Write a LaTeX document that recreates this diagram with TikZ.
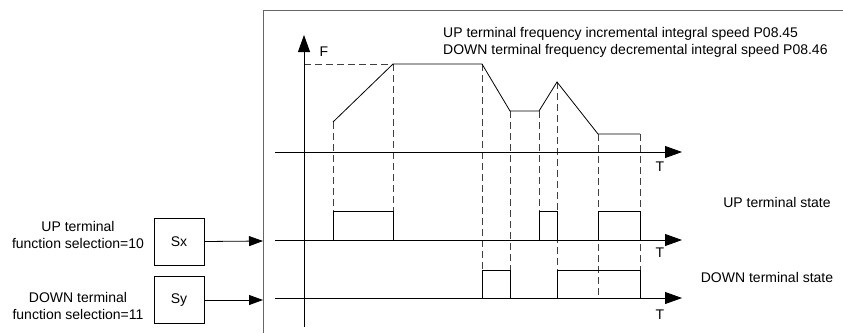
\documentclass[tikz,border=0pt]{standalone}
\usepackage{fontspec}
\setmainfont{Liberation Sans}
\usetikzlibrary{arrows.meta}
\begin{document}
\begin{tikzpicture}[x=1pt,y=-1pt,
  every node/.style={font=\fontsize{14}{17}\selectfont, inner sep=0pt},
  axisline/.style={line width=0.8pt, -{Triangle[length=17pt,width=12pt]}},
  sig/.style={line width=0.8pt},
  guide/.style={line width=0.8pt, dash pattern=on 7pt off 4pt, draw=black!75},
  frameline/.style={line width=0.9pt, draw=black!60},
  boxst/.style={draw, line width=0.7pt, minimum width=50pt, minimum height=47pt, inner sep=0pt},
  feed/.style={line width=0.8pt, -{Triangle[length=14pt,width=10pt]}}
]
\useasboundingbox (0,0) rectangle (843,333);
% frame
\draw[frameline] (263,333) -- (263,10) -- (843,10);
% coordinates
\coordinate (fB) at (304,327);
\coordinate (fT) at (304,35);
\coordinate (a1L) at (275,152);
\coordinate (a1R) at (682,152);
\coordinate (a2L) at (275,240);
\coordinate (a2R) at (682,240);
\coordinate (a3L) at (275,298);
\coordinate (a3R) at (682,298);
% guides
\draw[guide] (304,64) -- (393,64);
\draw[guide] (333,122) -- (333,211);
\draw[guide] (393,64) -- (393,211);
\draw[guide] (482,64) -- (482,270);
\draw[guide] (510,111) -- (510,270);
\draw[guide] (539,111) -- (539,211);
\draw[guide] (557,82) -- (557,270);
\draw[guide] (598,134) -- (598,298);
\draw[guide] (640,134) -- (640,270);
% axes
\draw[axisline] (fB) -- (fT);
\draw[axisline] (a1L) -- (a1R);
\draw[axisline] (a2L) -- (a2R);
\draw[axisline] (a3L) -- (a3R);
% frequency curve
\draw[sig] (333,122) -- (393,64) -- (482,64) -- (510,111) -- (539,111) -- (557,82) -- (598,134) -- (640,134);
% UP pulses
\draw[sig] (333,240) -- (333,211) -- (393,211) -- (393,240);
\draw[sig] (539,240) -- (539,211) -- (557,211) -- (557,240);
\draw[sig] (598,240) -- (598,211) -- (640,211) -- (640,240);
% DOWN pulses
\draw[sig] (482,298) -- (482,270) -- (510,270) -- (510,298);
\draw[sig] (557,298) -- (557,270) -- (640,270) -- (640,298);
% labels
\node (F) at (324,52) {F};
\node (T1) at (660,167) {T};
\node (T2) at (660,253) {T};
\node (T3) at (660,315) {T};
\node[anchor=west, align=left] (title) at (443,42) {UP terminal frequency incremental integral speed P08.45\\DOWN terminal frequency decremental integral speed P08.46};
\node (upst) at (777,202) {UP terminal state};
\node (dnst) at (767,277) {DOWN terminal state};
% boxes
\node[boxst] (Sx) at (179,241.5) {Sx};
\node[boxst] (Sy) at (179,300) {Sy};
\coordinate (inx) at (263,241);
\coordinate (iny) at (263,300);
\draw[feed] (Sx.east) -- (inx);
\draw[feed] (Sy.east) -- (iny);
\node[align=center] (uplab) at (78,235) {UP terminal\\function selection=10};
\node[align=center] (dnlab) at (78,306) {DOWN terminal\\function selection=11};
\end{tikzpicture}
\end{document}
